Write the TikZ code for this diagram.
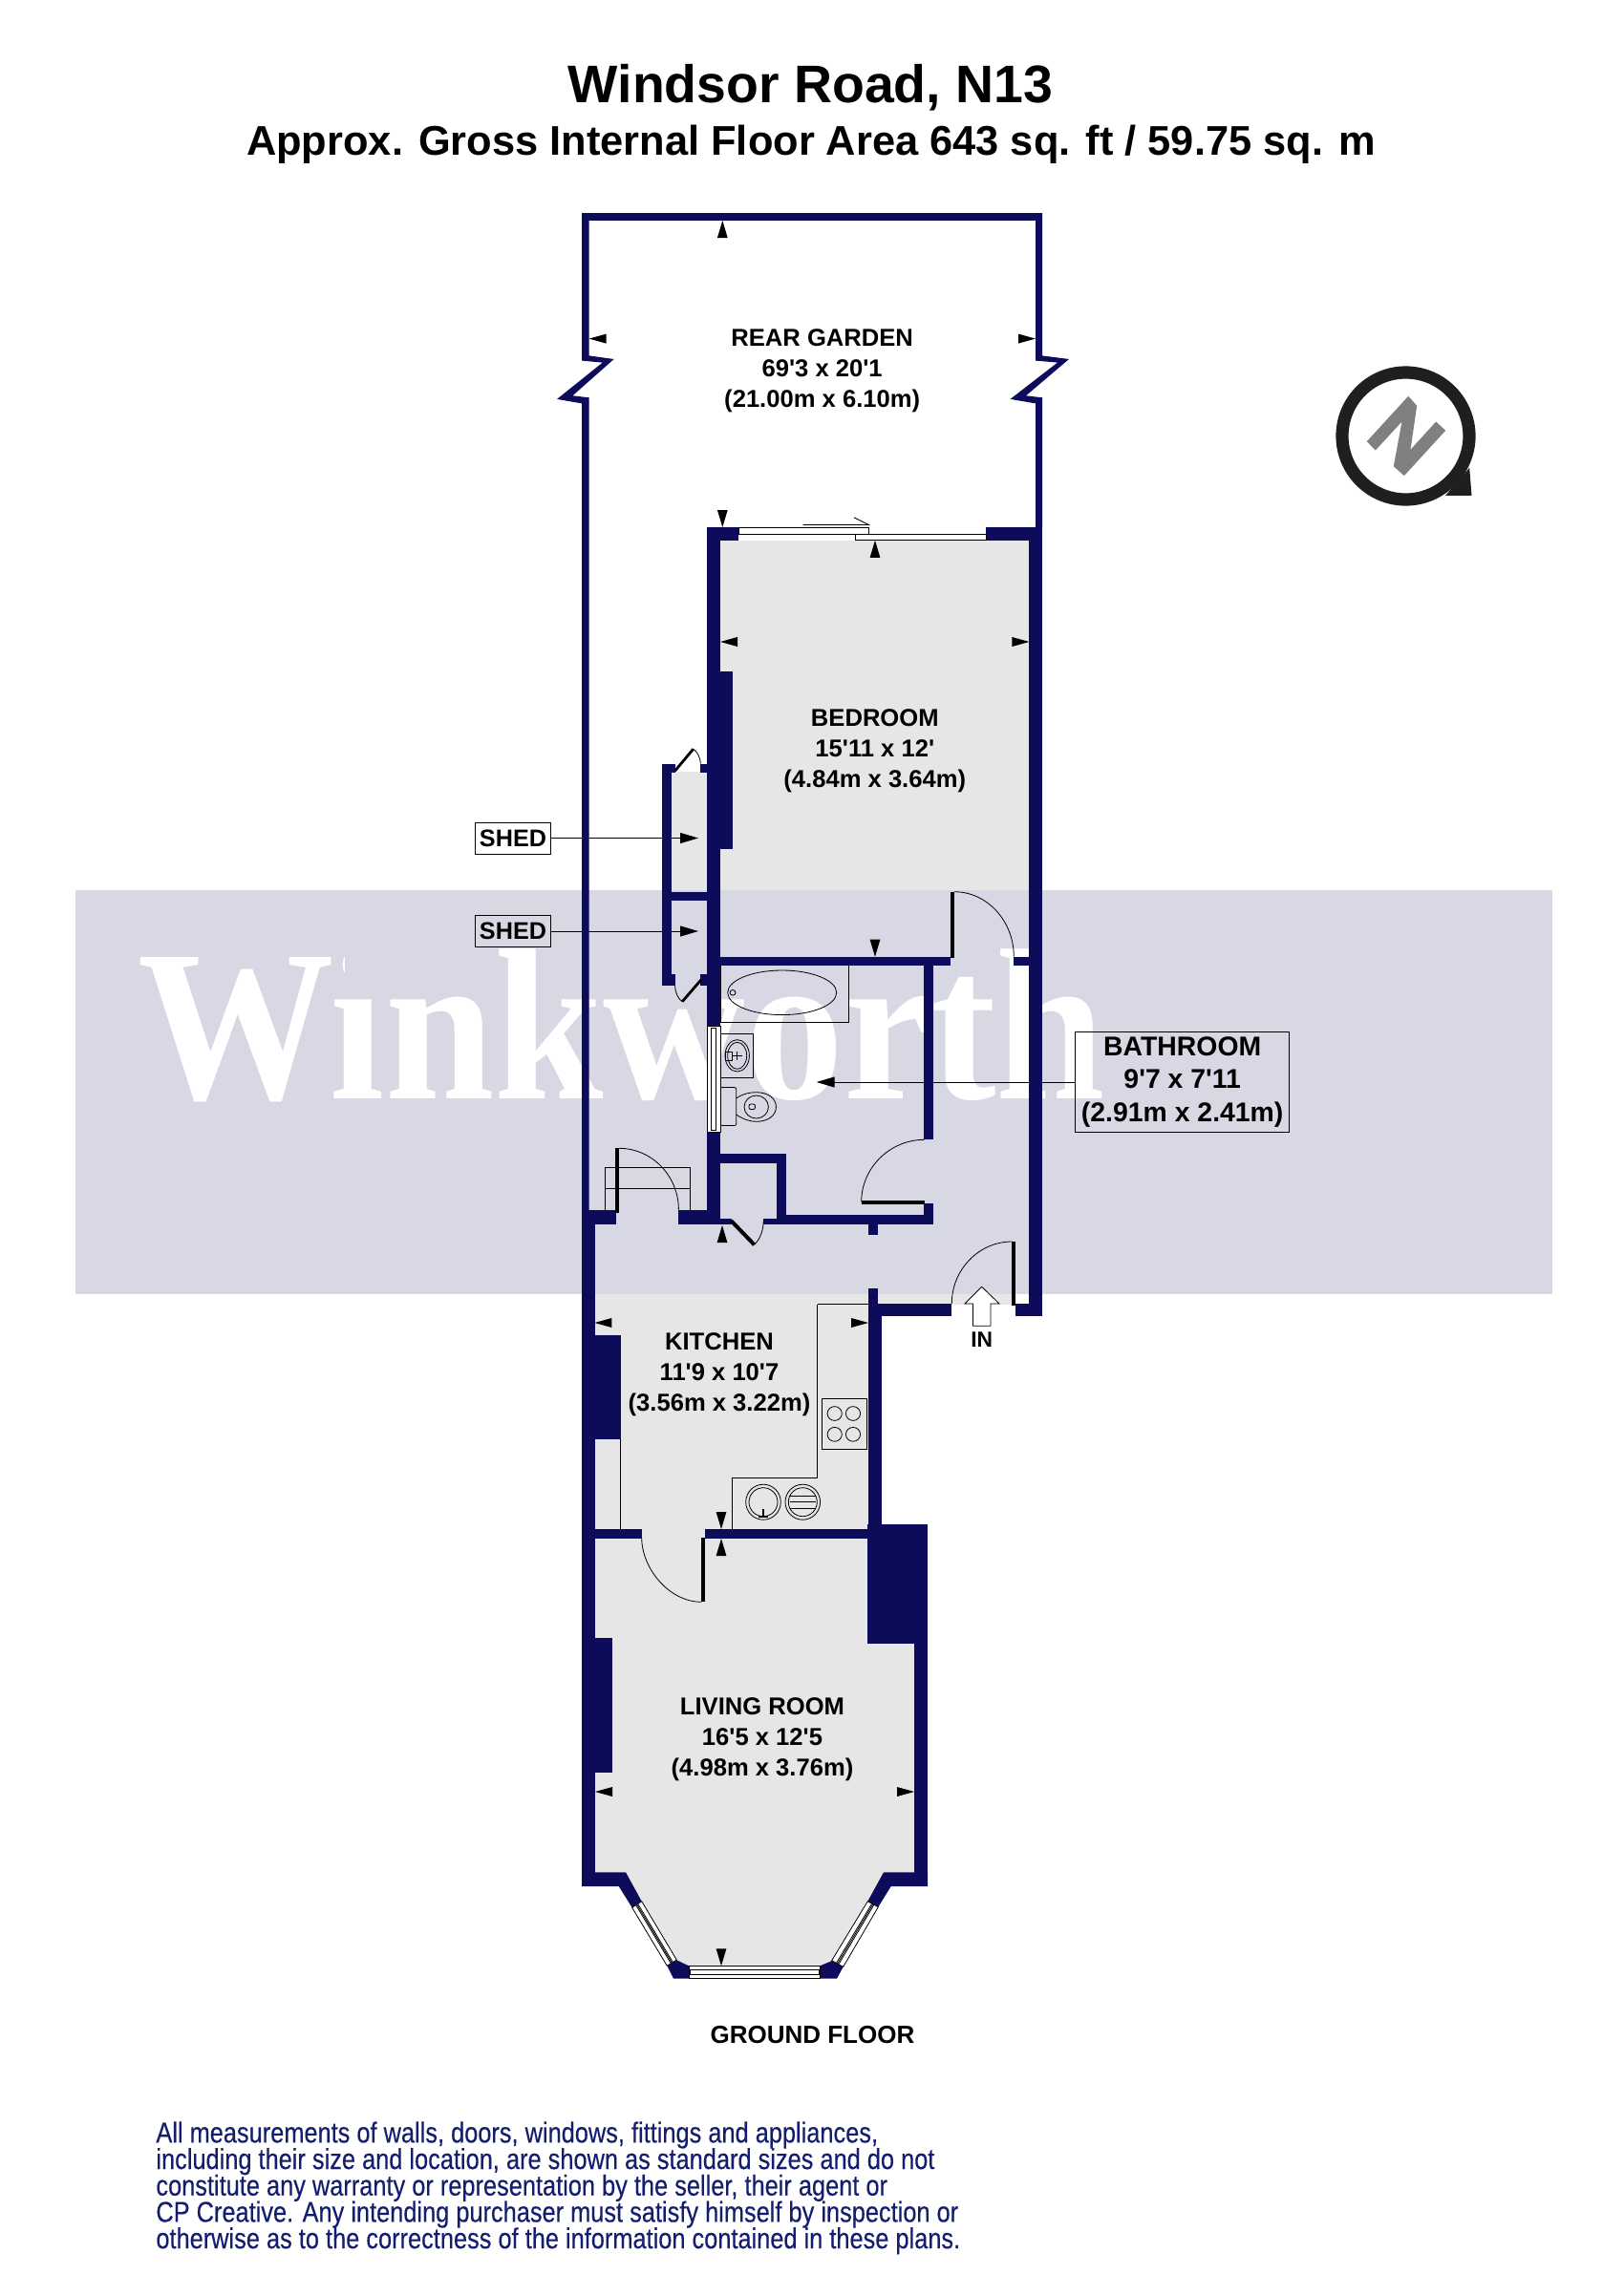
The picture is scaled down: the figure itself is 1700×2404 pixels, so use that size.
\documentclass[tikz,border=0pt]{standalone}
\usepackage{fontspec}
\setmainfont{Liberation Sans}
\newfontfamily\markfont[FakeStretch=0.91]{Liberation Serif}
\newfontfamily\notefont[FakeStretch=0.84,FakeBold=0.3]{Liberation Sans}
\usepackage{tikz}
\usetikzlibrary{arrows.meta}
\usetikzlibrary{calc}
\definecolor{wallnavy}{RGB}{13,12,90}
\definecolor{notenavy}{RGB}{20,30,110}
\definecolor{floorgrey}{RGB}{230,230,230}
\definecolor{bandlilac}{RGB}{215,216,228}
\setlength{\lineskiplimit}{-10pt}
\newcommand{\ftmark}{\textquotesingle}
\tikzset{wall/.style={fill=wallnavy},
         floor/.style={fill=floorgrey},
         fitting/.style={draw=black,line width=0.4pt},
         doorleaf/.style={draw=black,line width=2pt},
         swing/.style={draw=black,line width=0.4pt},
         room/.style={font=\bfseries\fontsize{12.8}{16}\selectfont,align=center,inner sep=0pt},
         tag/.style={draw=black,line width=0.5pt,inner sep=0pt,align=center},
         pointer/.style={draw=black,line width=0.5pt,-{Triangle[length=9.5pt,width=5.5pt]}}}

\begin{document}
\begin{tikzpicture}[x=0.5pt,y=-0.5pt]
\useasboundingbox (0,0) rectangle (1700,2404);
% floors
\fill[floor] (754,565.8) rectangle (1077.4,1002);
\fill[floor] (702.7,808) rectangle (740,1020);
\fill[floor] (622,1340) rectangle (909,1605);
\fill[floor] (919,1340) rectangle (1063.3,1366);
\fill[floor] (623,1605) -- (908,1605) -- (908,1721) -- (957,1721) -- (957,1960.3) -- (925,1960.3)
  -- (870.7,2058.3) -- (708.3,2058.3) -- (655,1960.3) -- (623,1960.3) -- cycle;
% band and watermark
\fill[bandlilac] (79.2,932) rectangle (1625,1354.7);
\node[anchor=base,inner sep=0pt,text=white,font=\markfont\bfseries\fontsize{113}{113}\selectfont] (winkworth) at (650.7,1150) {Winkworth};
\fill[bandlilac] (361,990) rectangle (402,1036);
% headings
\node[anchor=base,inner sep=0pt,font=\bfseries\fontsize{27.7}{30}\selectfont] (title) at (848.5,107.5) {Windsor Road, N13};
\node[anchor=base,inner sep=0pt,font=\bfseries\fontsize{21.7}{24}\selectfont] (subtitle) at (849,162.7) {Approx. Gross Internal Floor Area 643 sq. ft / 59.75 sq. m};
\node[anchor=base,inner sep=0pt,font=\bfseries\fontsize{13}{15}\selectfont] (groundfloor) at (850.4,2139.3) {GROUND FLOOR};
\node[anchor=north west,inner sep=0pt,align=left,text=notenavy,font=\notefont\fontsize{15.1}{13.85}\selectfont] (disclaimer) at (163,2221) {All measurements of walls, doors, windows, fittings and appliances,\\
including their size and location, are shown as standard sizes and do not\\
constitute any warranty or representation by the seller, their agent or\\
CP Creative. Any intending purchaser must satisfy himself by inspection or\\
otherwise as to the correctness of the information contained in these plans.};
% tags and pointers
\node[tag,minimum width=39.5pt,minimum height=16.5pt,font=\bfseries\fontsize{12.6}{14}\selectfont] (shedupper) at (537,877.5) {SHED};
\node[tag,minimum width=39.5pt,minimum height=16.5pt,font=\bfseries\fontsize{12.6}{14}\selectfont] (shedlower) at (537,975) {SHED};
\node[tag,minimum width=112pt,minimum height=52.7pt,font=\bfseries\fontsize{14.2}{17.3}\selectfont] (bathroom) at (1237.7,1133) {BATHROOM\\9\ftmark 7 x 7\ftmark 11\\(2.91m x 2.41m)};
\coordinate (shedupperend) at (731,877.5);
\coordinate (shedlowerend) at (731,975);
\coordinate (bathroomend) at (854.7,1133);
\draw[pointer] (shedupper) -- (shedupperend);
\draw[pointer] (shedlower) -- (shedlowerend);
\draw[pointer] (bathroom) -- (bathroomend);
% fittings
\draw[fitting] (633.5,1266.7) |- (722.6,1222.3) -- (722.6,1266.7);
\draw[fitting] (633.5,1244.3) -- (722.6,1244.3);
\draw[fitting] (754,1010.7) rectangle (888.4,1070);
\draw[fitting] (818.7,1039.3) ellipse (57 and 23.3);
\draw[fitting] (767,1039.3) ellipse (3 and 2.8);
\draw[fitting] (754,1082.3) rectangle (788.5,1128.3);
\draw[fitting] (771.7,1105.3) ellipse (12.7 and 16.7);
\draw[fitting] (771.7,1105.3) ellipse (10 and 14);
\draw[fitting] (767,1105.3) -- (776.5,1105.3) (771.7,1101) -- (771.7,1109.5);
\draw[fitting] (759.5,1101) rectangle (766.7,1110);
\draw[fitting,rounded corners=1pt] (754,1138.5) rectangle (770.7,1178.5);
\draw[fitting] (770.7,1150) .. controls (778,1145) and (785,1143.7) .. (791.7,1143.7)
  .. controls (804,1143.7) and (812.4,1150) .. (812.4,1159)
  .. controls (812.4,1168) and (804,1174.3) .. (791.7,1174.3)
  .. controls (785,1174.3) and (778,1172) .. (770.7,1167);
\draw[fitting] (791.7,1159) ellipse (12.7 and 12);
\draw[fitting,rounded corners=1pt] (784,1156) rectangle (790.5,1161.5);
\draw[fitting] (855.7,1365.6) -- (855.7,1547) -- (766.3,1547) -- (766.3,1601);
\draw[fitting] (855.7,1365.6) -- (909,1365.6);
\draw[fitting] (649.4,1507) -- (649.4,1601);
\draw[fitting] (860.4,1464.3) rectangle (907.4,1517.3);
\foreach \x in {873.7,893}
  \foreach \y in {1480,1501.8}
    \draw[fitting] (\x,\y) ellipse (7.6 and 7.4);
\draw[fitting] (799,1572.7) ellipse (18.3 and 18.5);
\draw[fitting] (799,1572.7) ellipse (15 and 15);
\draw[fitting,line width=1pt] (798.7,1580) -- (798.7,1588) (794,1588) -- (804,1588);
\draw[fitting] (840.3,1572.7) ellipse (18.3 and 18.5);
\draw[fitting] (840.3,1572.7) ellipse (15 and 15);
\foreach \y in {1566,1572.7,1579.4}
  \draw[fitting] (826.5,\y) -- (854,\y);
% walls
\fill[wall] (609,223) -- (609,377.6) -- (630.8,379.6) -- (583,417.9) -- (609,422.4) -- (609,1281.7)
  -- (616.6,1281.7) -- (616.6,416.3) -- (599.4,414.3) -- (642.7,376) -- (616.6,372.4) -- (616.6,223) -- cycle;
\fill[wall] (1084,223) -- (1084,377.6) -- (1107,379.6) -- (1057.5,417.9) -- (1084,422.4) -- (1084,552)
  -- (1091,552) -- (1091,416.3) -- (1074,414.3) -- (1119,376) -- (1091,372.4) -- (1091,223) -- cycle;
\foreach \xa/\ya/\xb/\yb in {609/223/1091/231,739.9/552/773.2/565.8,1031.9/552/1091/565.8,739.9/552/754/1074,
    754/703/767/888.8,1077.4/552/1091/1378.3,754/1001.7/995/1011,1061.3/1001.7/1077.4/1011,
    693.2/799.5/702.7/1032.3,693.2/799.5/706.6/808.7,733.4/799.5/739.9/808.7,702.7/933.7/739.9/943.4,
    693.2/1020/706.6/1032.3,733.4/1020/739.9/1032.3,967.4/1011/977/1193.3,967.4/1260/977/1281.7,
    739.9/1185/754/1281.7,754/1207.7/822.5/1217.7,813.3/1207.7/822.5/1281.7,813.3/1271.7/977/1281.7,
    753/1276/765.5/1281.7,799.2/1276/813.3/1281.7,909/1281.7/919/1292.7,
    609/1266.7/622.5/1975,616.6/1266.7/645/1281.7,710.4/1266.7/753/1281.7,
    909/1349/919/1365,909/1365/922.7/1601,919/1365/996.3/1378.3,1063.3/1365/1091/1378.3,
    609/1398/650/1507,622.7/1601/671.7/1610.7,738/1601/909/1610.7,908/1596/971/1721,957/1721/971/1975,609/1715/641/1856}
  \fill[wall] (\xa,\ya) rectangle (\xb,\yb);
\fill[wall] (609,1960.3) -- (655,1960.3) -- (671.7,1990.7) -- (661.7,1997.3) -- (647.7,1975) -- (609,1975) -- cycle;
\fill[wall] (971,1960.3) -- (925,1960.3) -- (908.3,1990.7) -- (919.3,1996.7) -- (932.7,1975) -- (971,1975) -- cycle;
\fill[wall] (698.3,2058.3) -- (708.3,2052.3) -- (721,2058.3) -- (721,2071.7) -- (705,2071.7) -- cycle;
\fill[wall] (858.3,2058.3) -- (871.7,2052.7) -- (882.7,2059.3) -- (876,2071.7) -- (858.3,2071.7) -- cycle;
% windows
\draw[fitting,fill=white] (773,552) rectangle (909.4,559.7);
\draw[fitting,fill=white] (895.6,559.7) rectangle (1031.9,565.8);
\draw[fitting] (840.5,549.5) -- (909.4,549.5) -- (894,541.8);
\draw[fitting,fill=white] (739.9,1074) rectangle (754,1185);
\draw[fitting] (744.7,1076) rectangle (748.9,1183);
\draw[fitting,fill=white] (721,2058.3) rectangle (858.3,2071.7);
\draw[fitting] (722.5,2062.7) rectangle (857.7,2067.3);
\coordinate (bayla) at (661.7,1997.3);
\coordinate (baylb) at (671.7,1990.7);
\coordinate (baylc) at (708.3,2052);
\coordinate (bayld) at (698.3,2058.3);
\coordinate (bayra) at (908.3,1990.7);
\coordinate (bayrb) at (919.3,1996.7);
\coordinate (bayrc) at (882.7,2059.3);
\coordinate (bayrd) at (870.7,2052.7);
\draw[fitting,fill=white] (bayla) -- (baylb) -- (baylc) -- (bayld) -- cycle;
\draw[fitting,fill=white] (bayra) -- (bayrb) -- (bayrc) -- (bayrd) -- cycle;
\foreach \t in {0.4,0.5,0.6} {
  \draw[fitting] ($(bayla)!\t!(baylb)$) -- ($(bayld)!\t!(baylc)$);
  \draw[fitting] ($(bayra)!\t!(bayrb)$) -- ($(bayrd)!\t!(bayrc)$);
}
% doors
\draw[doorleaf] (997,933.7) -- (997,1003);
\draw[swing] (999,933.7) .. controls (1033.3,933.7) and (1061.3,964.3) .. (1061.3,1001.7);
\draw[doorleaf] (901.7,1259) -- (967.6,1259);
\draw[swing] (967.6,1193.3) .. controls (931.4,1193.3) and (901.7,1222.9) .. (901.7,1258.3);
\draw[doorleaf] (646,1202.3) -- (646,1270);
\draw[swing] (648,1202.3) .. controls (682.5,1202.3) and (710.4,1231.3) .. (710.4,1266.7);
\draw[doorleaf] (765.5,1278.3) -- (789.6,1303.3);
\draw[swing] (789.6,1303.3) .. controls (796,1297) and (799,1288) .. (799.2,1278.3);
\draw[doorleaf] (1061.3,1300) -- (1061.3,1366.7);
\draw[swing] (1059.4,1300) .. controls (1024.7,1300) and (996.3,1329.3) .. (996.3,1365);
\draw[doorleaf] (736.3,1610) -- (736.3,1677.3);
\draw[swing] (734.3,1677.3) .. controls (700,1677.3) and (671.7,1641.6) .. (671.7,1610);
\draw[doorleaf,line width=1.4pt] (706.6,807.1) -- (725.7,784.2);
\draw[swing] (725.7,784.2) .. controls (730,787) and (733,793) .. (733.4,799.5);
\draw[doorleaf,line width=1.4pt] (734,1025.8) -- (714.2,1048.7);
\draw[swing] (714.2,1048.7) .. controls (710,1046) and (707,1040) .. (706.6,1032.3);
% in arrow
\draw[fitting,fill=white] (1027.7,1347.3) -- (1046,1365) -- (1036.9,1365) -- (1036.9,1388.3)
  -- (1018.5,1388.3) -- (1018.5,1365) -- (1010,1365) -- cycle;
\node[inner sep=0pt,font=\bfseries\fontsize{11.4}{13}\selectfont] (entry) at (1027.7,1403) {IN};
% dimension marks
\foreach \x/\y in {756.3/231,916/565.8,756/1283,755/1611}
  \fill (\x,\y) -- ++(-5.4,18) -- ++(10.8,0) -- cycle;
\foreach \x/\y in {756.3/552,916/1001.7,755/1601,755/2058.3}
  \fill (\x,\y) -- ++(-5.4,-18) -- ++(10.8,0) -- cycle;
\foreach \x/\y in {616.6/354.6,754/672,622.4/1385,623/1876}
  \fill (\x,\y) -- ++(18,-5) -- ++(0,10) -- cycle;
\foreach \x/\y in {1084/354.6,1077.4/672,909/1385,957/1876}
  \fill (\x,\y) -- ++(-18,-5) -- ++(0,10) -- cycle;
% room names
\node[room] (reargarden) at (860.7,388.5) {REAR GARDEN\\69\ftmark 3 x 20\ftmark 1\\(21.00m x 6.10m)};
\node[room] (bedroom) at (915.8,786.5) {BEDROOM\\15\ftmark 11 x 12\ftmark\\(4.84m x 3.64m)};
\node[room] (kitchen) at (753,1439.5) {KITCHEN\\11\ftmark 9 x 10\ftmark 7\\(3.56m x 3.22m)};
\node[room] (livingroom) at (798,1821.5) {LIVING ROOM\\16\ftmark 5 x 12\ftmark 5\\(4.98m x 3.76m)};
% north mark
\begin{scope}[shift={(1.5,1.5)}]
\fill[black!88] (1511.7,517.3) -- (1539,517.3) -- (1536.7,488.3) -- cycle;
\draw[black!88,line width=6.6pt,fill=white] (1470,455) circle (66.5);
\fill[black!50] (1472.7,413.3) -- (1481.7,423.3) -- (1475,469.3) -- (1501.7,440) -- (1511.7,449.3) -- (1468.3,496.7)
  -- (1457.3,486.7) -- (1466,440) -- (1438.3,470) -- (1429.3,460.7) -- cycle;
\end{scope}
\end{tikzpicture}
\end{document}
